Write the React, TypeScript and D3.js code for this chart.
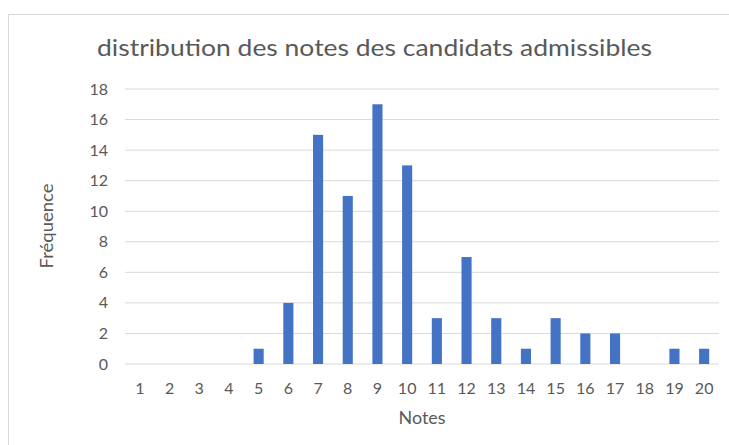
import React from "react";
import * as d3 from "d3";

const notes = ["1","2","3","4","5","6","7","8","9","10","11","12","13","14","15","16","17","18","19","20"];
const frequences = [0,0,0,0,1,4,15,11,17,13,3,7,3,1,3,2,2,0,1,1];
const yTicks = [0,2,4,6,8,10,12,14,16,18];
const title = "distribution des notes des candidats admissibles";

const W = 729;
const H = 445;
const left = 125;
const right = 719;
const top = 89;
const bottom = 364;
const font = "Lato, 'Open Sans', sans-serif";
const textColor = "#595959";

export default function App() {
  const x = d3.scaleBand<string>().domain(notes).range([left, right]).paddingInner(0.66).paddingOuter(0.33);
  const y = d3.scaleLinear().domain([0, 18]).range([bottom, top]);

  return (
    <svg width={W} height={H} style={{ position: "absolute", left: 0, top: 0 }}>
      <rect x={0} y={0} width={W} height={H} fill="#fff" />
      <rect x={8.5} y={14.5} width={W + 10} height={H + 10} fill="none" stroke="#d9d9d9" />
      <text x={97} y={56} fontFamily={font} fontSize={24} fill={textColor} textLength={555} lengthAdjust="spacingAndGlyphs">
        {title}
      </text>
      {yTicks.map((t) => (
        <g key={t}>
          <line x1={left} x2={right} y1={y(t)} y2={y(t)} stroke="#d9d9d9" strokeWidth={1} />
          <text x={108} y={y(t)} dy="0.35em" textAnchor="end" fontFamily={font} fontSize={16} fill={textColor}>
            {t}
          </text>
        </g>
      ))}
      {notes.map((n, i) => (
        <rect key={n} x={x(n)} y={y(frequences[i])} width={x.bandwidth()} height={bottom - y(frequences[i])} fill="#4472c4" />
      ))}
      {notes.map((n) => (
        <text key={n} x={(x(n) ?? 0) + x.bandwidth() / 2} y={388} dy="0.35em" textAnchor="middle" fontFamily={font} fontSize={16} fill={textColor}>
          {n}
        </text>
      ))}
      <text x={(left + right) / 2} y={418} dy="0.35em" textAnchor="middle" fontFamily={font} fontSize={17} fill={textColor} textLength={47} lengthAdjust="spacingAndGlyphs">
        Notes
      </text>
      <text transform={`translate(47,226) rotate(-90)`} dy="0.35em" textAnchor="middle" fontFamily={font} fontSize={17} fill={textColor} textLength={85} lengthAdjust="spacingAndGlyphs">
        Fréquence
      </text>
    </svg>
  );
}
